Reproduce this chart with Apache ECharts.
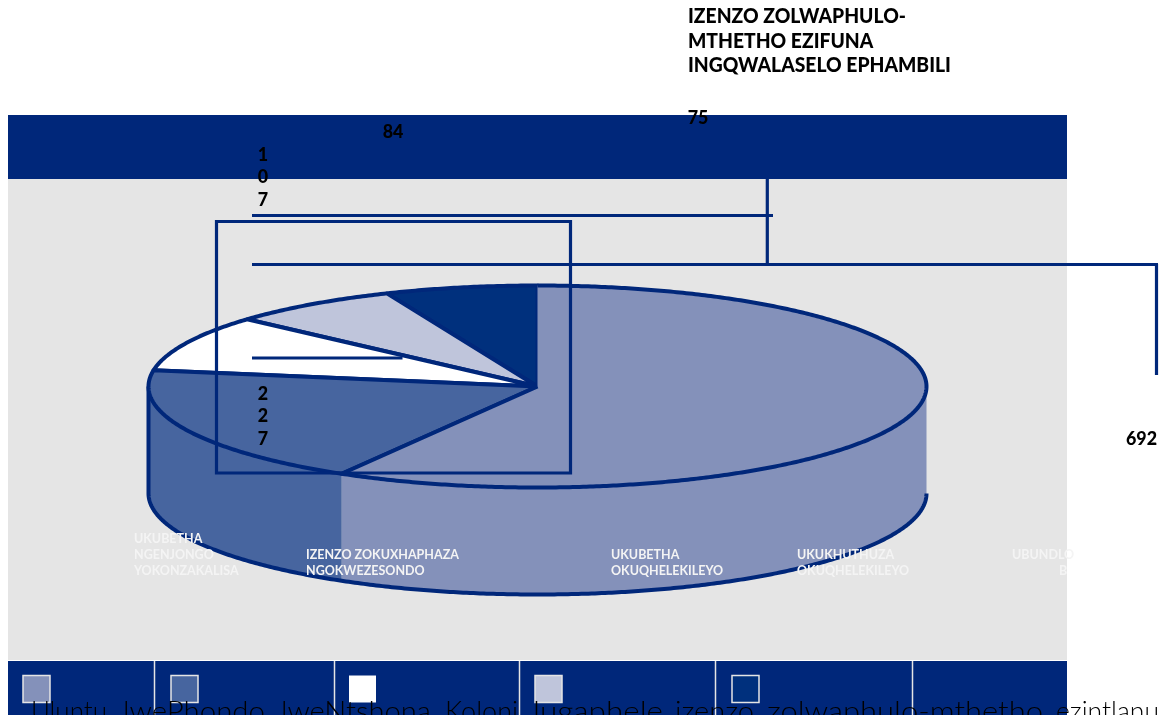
<!DOCTYPE html>
<html><head><meta charset="utf-8">
<style>html,body{margin:0;padding:0;background:#fff}#c{width:1160px;height:715px}</style>
<script src="https://cdn.jsdelivr.net/npm/echarts@6/dist/echarts.min.js"></script>
</head><body><div id="c"></div>
<script>
const categories = [
  ['UKUBETHA','OKUQHELEKILEYO'],
  ['IZENZO ZOKUXHAPHAZA','NGOKWEZESONDO'],
  ['UKUBETHA','NGENJONGO','YOKONZAKALISA'],
  ['UKUKHUTHUZA','OKUQHELEKILEYO'],
  ['IZENZO ZOLWAPHULO-','MTHETHO EZIFUNA','INGQWALASELO EPHAMBILI']
];
const values = [692, 227, 107, 84, 75];
const fills = ['#8491ba', '#47659f', '#ffffff', '#bfc5db', '#00307d'];
const stray = ['UBUNDLO', 'B'];
const captionWords = ['Uluntu','lwePhondo','lweNtshona','Koloni','lugaphele','izenzo','zolwaphulo-mthetho','ezintlanu'];

const NAVY = '#00277a', FONT = 'Lato';
const total = values.reduce((a,b)=>a+b,0);
const P = {cx:537.5, cy:386.5, rx:389, ry:101, depth:107};
const pt = (deg, dy=0) => { const t=deg*Math.PI/180; return [P.cx+P.rx*Math.sin(t), P.cy-P.ry*Math.cos(t)+dy]; };
const arc = (a,b,dy=0) => { const o=[]; const n=Math.max(2,Math.ceil(Math.abs(b-a)*2)); for(let i=0;i<=n;i++) o.push(pt(a+(b-a)*i/n,dy)); return o; };
const span = i => { let s=0; for(let k=0;k<i;k++) s+=values[k]; return [s/total*360,(s+values[i])/total*360]; };

const wallItem = (params, api) => {
  const [a,b] = span(api.value(0));
  const lo=Math.max(a,90), hi=Math.min(b,270);
  if(hi<=lo) return {type:'group',children:[]};
  return {type:'polygon',shape:{points:arc(lo,hi,0).concat(arc(hi,lo,P.depth))},
    style:{fill:fills[api.value(0)],stroke:null}};
};
const PEN = {stroke:NAVY,lineWidth:4,lineJoin:'round'};
const topItem = (params, api) => {
  const i=api.value(0), [a,b]=span(i), wedge=[[P.cx,P.cy]].concat(arc(a,b));
  if(i===0){ // largest slice: its edge at twelve o'clock carries no outline
    return {type:'group',children:[
      {type:'polygon',shape:{points:wedge},style:{fill:fills[i],stroke:null}},
      {type:'polyline',shape:{points:arc(a,b).concat([[P.cx,P.cy]])},style:Object.assign({fill:null},PEN)}
    ]};
  }
  return {type:'polygon',shape:{points:wedge},style:Object.assign({fill:fills[i]},PEN)};
};
const rimItem = () => ({type:'polyline',shape:{points:[pt(270,0)].concat(arc(270,90,P.depth))},style:Object.assign({fill:null},PEN)});

const line=(x1,y1,x2,y2,w=3.2)=>({type:'line',z:20,shape:{x1,y1,x2,y2},style:{stroke:NAVY,lineWidth:w}});
const rect=(x,y,width,height,fill,z=0)=>({type:'rect',z,shape:{x,y,width,height},style:{fill}});
const txt=(x,y,text,o={},sx=1)=>({type:'text',z:30,x,y,scaleX:sx,style:Object.assign({text,fill:'#000',font:`900 19px ${FONT}`,textVerticalAlign:'middle'},o)});

const g=[];
g.push(rect(8,115,1059,546,'#e5e5e5',0));
g.push(rect(8,115,1059,64,NAVY,1));
g.push(rect(8,661,1059,54,NAVY,1));
g.push(rect(8,660,1059,1,'#ffffff',1));
[154.5,334.5,519.5,715.5,912.5].forEach(x=>g.push(rect(x-.75,661,1.5,54,'#e5e5e5',2)));
const swX=[23,171,349,535,732];
swX.forEach((x,i)=>g.push({type:'rect',z:3,shape:{x,y:675.5,width:27,height:27},style:{fill:fills[i],stroke:i===2?null:'#e5e5e5',lineWidth:1.5}}));

// leader lines and frame
g.push({type:'rect',z:20,shape:{x:216.5,y:221.5,width:354,height:251.5},style:{fill:null,stroke:NAVY,lineWidth:3.2}});
g.push(line(252,215.5,773,215.5));
g.push(line(252,264.5,1158,264.5));
g.push(line(1156.5,264,1156.5,375));
g.push(line(767.3,179,767.3,264));
g.push(line(252,358,402.5,358));

// value labels
const NUM=0.94;
const digits=(x,y,v)=>String(v).split('').forEach((d,i)=>g.push(txt(x,y+i*22.3,d,{textAlign:'center'},NUM)));
digits(263,394,values[1]);
digits(263,155,values[2]);
g.push(txt(393,132,String(values[3]),{textAlign:'center'},NUM));
g.push(txt(698,118,String(values[4]),{textAlign:'center'},NUM));
g.push(txt(1157,439,String(values[0]),{textAlign:'right'},NUM));

// heading
categories[4].forEach((s,i)=>g.push(txt(688,17+i*24.5,s,{font:`900 20px ${FONT}`},0.965)));

// white legend captions
const wf={fill:'#f4f4f4',font:`700 12.5px ${FONT}`};
categories[2].forEach((s,i)=>g.push(txt(134,539+i*16,s,wf)));
categories[1].forEach((s,i)=>g.push(txt(306,555+i*16,s,wf)));
categories[0].forEach((s,i)=>g.push(txt(611,555+i*16,s,wf)));
categories[3].forEach((s,i)=>g.push(txt(797,555+i*16,s,wf)));
g.push(txt(1012,555,stray[0],wf));
g.push(txt(1059,571,stray[1],wf));

// caption across bottom, each word fitted to the span it takes in the reference
const capX=[31,123,281,445,533,675,767,1056];
const capW=[76,142,150,73,130,79,276,103];
const capFont=`300 27px ${FONT}`;
const mctx=document.createElement('canvas').getContext('2d'); mctx.font=capFont;
captionWords.forEach((w,i)=>g.push(txt(capX[i],712,w,{font:capFont,fill:'#000'},capW[i]/mctx.measureText(w).width)));

const chart=echarts.init(document.getElementById('c'),null,{renderer:'canvas'});
const rows=values.map((v,i)=>[i,v]);
chart.setOption({
  animation:false,
  graphic:{elements:g},
  series:[
    {type:'custom',coordinateSystem:'none',z:2,silent:true,data:rows,renderItem:wallItem},
    {type:'custom',coordinateSystem:'none',z:3,silent:true,data:[[0]],renderItem:rimItem},
    {type:'custom',coordinateSystem:'none',z:4,silent:true,data:rows.slice().reverse(),renderItem:topItem}
  ]
});
</script></body></html>
